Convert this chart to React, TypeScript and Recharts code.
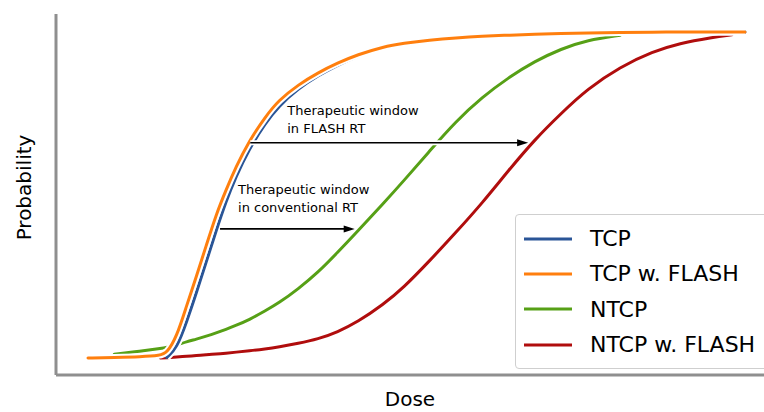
import React from "react";
import { LineChart, Line, XAxis, YAxis, ReferenceLine, Legend, Label } from "recharts";

// dose grid (arbitrary units, 0..100) and the four probability curves
const dose = [0, 4, 8, 11, 12, 13.5, 15, 16.5, 18, 19.5, 21, 22.5, 24.5, 27, 29, 32, 35, 38, 41, 45, 48, 52, 56, 60, 64, 68, 72, 76, 81, 86, 90, 95, 98, 100];

const tcp = [null, null, null, null, 0.002, 0.03, 0.11, 0.2, 0.295, 0.39, 0.48, 0.555, 0.64, 0.72, 0.772, 0.826, 0.866, 0.898, 0.926, 0.952, 0.963, 0.974, 0.981, 0.986, 0.99, 0.993, 0.995, 0.997, 0.998, 0.999, 1, 1, 1, 1];
const tcpFlash = [0, 0.002, 0.004, 0.008, 0.015, 0.065, 0.16, 0.25, 0.345, 0.44, 0.515, 0.585, 0.665, 0.74, 0.79, 0.838, 0.875, 0.905, 0.93, 0.955, 0.965, 0.975, 0.982, 0.987, 0.99, 0.993, 0.995, 0.997, 0.998, 0.999, 1, 1, 1, 1];
const ntcp = [null, 0.012, 0.021, 0.029, 0.032, 0.04, 0.05, 0.058, 0.067, 0.077, 0.088, 0.1, 0.117, 0.145, 0.168, 0.212, 0.262, 0.324, 0.388, 0.475, 0.542, 0.635, 0.726, 0.8, 0.86, 0.91, 0.948, 0.975, 0.99, null, null, null, null, null];
const ntcpFlash = [null, null, null, 0, 0.001, 0.003, 0.005, 0.008, 0.01, 0.012, 0.015, 0.018, 0.022, 0.028, 0.034, 0.045, 0.058, 0.08, 0.11, 0.165, 0.215, 0.298, 0.385, 0.475, 0.575, 0.67, 0.75, 0.825, 0.893, 0.94, 0.965, 0.983, 0.991, null];

const seriesKeys = ["tcp", "tcpFlash", "ntcp", "ntcpFlash"];
const seriesNames = ["TCP", "TCP w. FLASH", "NTCP", "NTCP w. FLASH"];
const seriesColors = ["#2a5597", "#ff7f0e", "#56a016", "#b00d0d"];
// drawing order (bottom to top)
const drawOrder = [2, 3, 0, 1];

// annotation arrows: start dose, end dose, probability, text lines
const arrowStart = [24.7, 20.1];
const arrowEnd = [67.0, 40.6];
const arrowLevel = [0.66, 0.396];
const arrowText = [
  ["Therapeutic window", "in FLASH RT"],
  ["Therapeutic window", "in conventional RT"],
];
const textOffset = [
  { dx: 37, dy: -10 },
  { dx: 18, dy: -17 },
];

const data = dose.map((d, i) => ({
  dose: d,
  tcp: tcp[i],
  tcpFlash: tcpFlash[i],
  ntcp: ntcp[i],
  ntcpFlash: ntcpFlash[i],
}));

const FONT = "'DejaVu Sans', sans-serif";
const SPINE = "#8f8f8f";

const makeArrow = (idx: number) => (props: any) => {
  const { x1, y1, x2, y2 } = props;
  const off = textOffset[idx];
  return (
    <g>
      <line x1={x1} y1={y1} x2={x2 - 8} y2={y2} stroke="#fff" strokeWidth={5} />
      <line x1={x1} y1={y1} x2={x2 - 8} y2={y2} stroke="#000" strokeWidth={1.6} />
      <polygon points={`${x2},${y2} ${x2 - 11},${y2 - 3.5} ${x2 - 11},${y2 + 3.5}`} fill="#000" />
      {arrowText[idx].map((t, k) => (
        <text
          key={k}
          x={x1 + off.dx}
          y={y1 + off.dy - (arrowText[idx].length - 1 - k) * 18}
          fontFamily={FONT}
          fontSize={13}
          fill="#000"
        >
          {t}
        </text>
      ))}
    </g>
  );
};

const renderLegend = () => (
  <div
    style={{
      border: "1px solid #cfcfcf",
      borderRadius: 4,
      background: "#fff",
      width: 260,
      padding: "6px 0 6px 8px",
      boxSizing: "border-box",
      fontFamily: FONT,
      fontSize: 22,
    }}
  >
    {seriesNames.map((name, i) => (
      <div key={name} style={{ display: "flex", alignItems: "center", height: 35.3 }}>
        <svg width={48} height={6} style={{ marginRight: 18 }}>
          <line x1={0} y1={3} x2={48} y2={3} stroke={seriesColors[i]} strokeWidth={3} />
        </svg>
        <span>{name}</span>
      </div>
    ))}
  </div>
);

export default function App() {
  return (
    <div style={{ position: "absolute", left: 0, top: 0, width: 764, height: 412, overflow: "hidden", background: "#fff" }}>
      <LineChart width={764} height={412} data={data} margin={{ top: 14, right: 0, left: 0, bottom: 0 }}>
        <XAxis
          dataKey="dose"
          type="number"
          domain={[-4.87, 102.9]}
          allowDataOverflow
          tick={false}
          tickLine={false}
          height={37}
          axisLine={{ stroke: SPINE, strokeWidth: 3 }}
        >
          <Label
            content={({ viewBox }: any) => (
              <text x={viewBox.x + viewBox.width / 2} y={viewBox.y + 31} textAnchor="middle" fontFamily={FONT} fontSize={20} fill="#000">
                Dose
              </text>
            )}
          />
        </XAxis>
        <YAxis
          type="number"
          domain={[-0.052, 1.055]}
          allowDataOverflow
          tick={false}
          tickLine={false}
          width={56}
          axisLine={{ stroke: SPINE, strokeWidth: 3 }}
        >
          <Label
            content={({ viewBox }: any) => {
              const x = viewBox.x + 31;
              const y = viewBox.y + viewBox.height / 2 - 7;
              return (
                <text x={x} y={y} transform={`rotate(-90, ${x}, ${y})`} textAnchor="middle" fontFamily={FONT} fontSize={20} fill="#000">
                  Probability
                </text>
              );
            }}
          />
        </YAxis>
        {drawOrder.map((i) => [
          <Line
            key={seriesKeys[i] + "-halo"}
            dataKey={seriesKeys[i]}
            type="basis"
            stroke="#fff"
            strokeWidth={7}
            dot={false}
            activeDot={false}
            legendType="none"
            isAnimationActive={false}
          />,
          <Line
            key={seriesKeys[i]}
            dataKey={seriesKeys[i]}
            name={seriesNames[i]}
            type="basis"
            stroke={seriesColors[i]}
            strokeWidth={3}
            strokeLinecap="round"
            dot={false}
            activeDot={false}
            isAnimationActive={false}
          />,
        ])}
        {arrowStart.map((s, i) => (
          <ReferenceLine
            key={"arrow" + i}
            segment={[
              { x: s, y: arrowLevel[i] },
              { x: arrowEnd[i], y: arrowLevel[i] },
            ]}
            shape={makeArrow(i)}
          />
        ))}
        <Legend
          layout="horizontal"
          align="center"
          verticalAlign="middle"
          content={renderLegend}
          wrapperStyle={{ position: "absolute", left: 515, top: 214, width: 260, height: 150 }}
        />
      </LineChart>
    </div>
  );
}
